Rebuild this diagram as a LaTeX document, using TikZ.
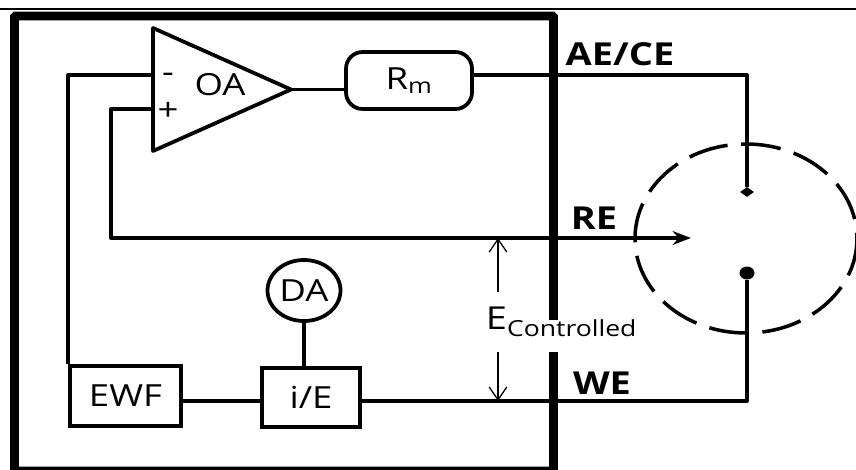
\documentclass[tikz,border=0pt]{standalone}
\usepackage{fontspec}
\setmainfont[FakeStretch=1.2]{Open Sans}
\usetikzlibrary{arrows.meta,shapes.geometric}

\begin{document}
\begin{tikzpicture}[
  x=0.03cm,y=-0.03cm,
  >=Stealth,
  wire/.style={line width=2.8pt,line join=round},
  blk/.style={draw,line width=3.2pt,inner sep=0pt,font=\fontsize{26}{30}\selectfont},
  txt/.style={inner sep=0pt,font=\fontsize{26}{30}\selectfont},
  port/.style={inner sep=0pt,font=\bfseries\fontsize{27}{32}\selectfont},
  elec/.style={fill,inner sep=0pt},
  meas/.style={-{Straight Barb[length=11pt,width=15pt]},line width=1.1pt}
]
\clip (0,0) rectangle (856,470);

% frame
\draw[line width=1.7pt] (0,9) -- (856,9);
\draw[line width=7.6pt,rounded corners=1pt] (14.5,16) rectangle (553.5,471);
\fill[white] (545,320) rectangle (562,352);

% cell
\node[ellipse,draw,line width=3pt,minimum width=6.66cm,minimum height=5.67cm,inner sep=0pt,
  dash pattern=on 34pt off 11.7pt,dash phase=29pt] (cell) at (746,238.5) {};

% blocks
\node[draw,isosceles triangle,isosceles triangle apex angle=48,isosceles triangle stretches,
  minimum height=4.14cm,minimum width=3.69cm,inner sep=0pt,outer sep=0pt,line width=3.2pt,line join=round,
  anchor=apex] (oa) at (291,89.5) {};
\node[txt] (oalabel) at (220,85) {OA};
\node[txt] (minus) at (168,78) {-};
\node[txt] (plus) at (168,111) {+};
\node[blk,rounded corners=5mm,minimum width=3.78cm,minimum height=1.71cm] (rm) at (409,80.5) {R\textsubscript{m}};
\node[blk,minimum width=3.33cm,minimum height=1.8cm] (ewf) at (125.5,396) {EWF};
\node[blk,minimum width=2.94cm,minimum height=1.77cm] (ie) at (311,397.5) {i/E\hspace{0.35cm}};
\node[blk,ellipse,minimum width=2.19cm,minimum height=1.83cm] (da) at (304,290.5) {DA};

% electrodes
\node[elec,diamond,minimum width=0.42cm,minimum height=0.3cm] (ae) at (747,192) {};
\node[elec,ellipse,minimum width=0.45cm,minimum height=0.39cm] (we) at (747,273) {};

% free ends
\coordinate (inm) at (153,75);
\coordinate (inp) at (153,109);
\coordinate (rmout) at (472,75);
\coordinate (refold) at (111,238);
\coordinate (retip) at (691,238);
\coordinate (ieout) at (360,401);
\coordinate (etop) at (498,238);
\coordinate (ebot) at (498,401);

% wires
\draw[wire] (inm) -| (ewf.north west);
\draw[wire,->] (inp) -| (refold) -- (retip);
\draw[wire] (oa.apex) -- (oa.apex -| rm.west);
\draw[wire] (rmout) -| (ae);
\draw[wire] (ieout) -| (we);
\draw[wire] (ewf.east |- ieout) -- (ie.west |- ieout);
\draw[wire] (da) ++(0,30) -- (da |- ie.north);

% labels
\node[port] (aelabel) at (620,54) {AE/CE};
\node[port] (relabel) at (594,218) {RE};
\node[port] (welabel) at (602,383) {WE};
\node[txt,font=\fontsize{27}{30}\selectfont,minimum width=5.49cm,minimum height=1.8cm] (ectrl) at (561.5,322) {E\textsubscript{Controlled}};
\draw[meas] (ectrl.north -| etop) -- (etop);
\draw[meas] (ectrl.south -| ebot) -- (ebot);
\end{tikzpicture}
\end{document}
